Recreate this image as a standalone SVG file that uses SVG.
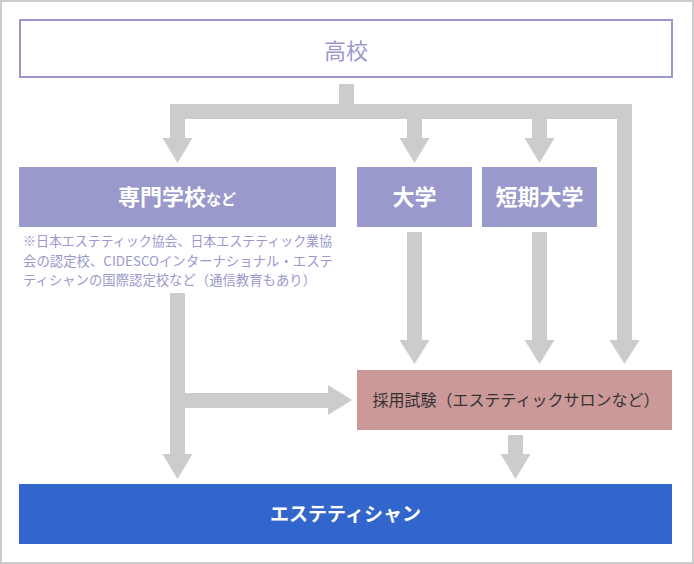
<svg xmlns="http://www.w3.org/2000/svg" width="694" height="564" viewBox="0 0 694 564">
<style>
.conn{fill:#cccccc}
.jp{font-family:"Noto Sans CJK JP","Noto Sans",sans-serif}
.white{fill:#ffffff;font-weight:bold}
</style>
<rect x="1" y="1" width="692" height="562" fill="#ffffff" stroke="#cccccc" stroke-width="2"/>
<g id="koukou">
<rect x="20" y="20" width="652" height="57" fill="#ffffff" stroke="#9999cc" stroke-width="2"/>
<text class="jp" x="346" y="59" font-size="22" fill="#9999cc" text-anchor="middle">高校</text>
</g>
<g id="senmon">
<rect x="19" y="167" width="317" height="60" fill="#9999cc"/>
<text class="jp white" x="177" y="205" font-size="22" text-anchor="middle">専門学校<tspan font-size="15">など</tspan></text>
<text class="jp" font-size="13.5" fill="#9999cc"><tspan x="23" y="246" textLength="309" lengthAdjust="spacingAndGlyphs">※日本エステティック協会、日本エステティック業協</tspan><tspan x="23" y="266" textLength="310" lengthAdjust="spacingAndGlyphs">会の認定校、CIDESCOインターナショナル・エステ</tspan><tspan x="23" y="285" textLength="293" lengthAdjust="spacingAndGlyphs">ティシャンの国際認定校など（通信教育もあり）</tspan></text>
</g>
<g id="daigaku">
<rect x="357" y="167" width="115" height="60" fill="#9999cc"/>
<text class="jp white" x="414.5" y="205" font-size="22" text-anchor="middle">大学</text>
</g>
<g id="tanki">
<rect x="482" y="167" width="115" height="60" fill="#9999cc"/>
<text class="jp white" x="539.5" y="205" font-size="22" text-anchor="middle">短期大学</text>
</g>
<g id="saiyou">
<rect x="357" y="370" width="315" height="60" fill="#cc9999"/>
<text class="jp" x="516" y="406" font-size="16" fill="#333333" text-anchor="middle">採用試験（エステティックサロンなど）</text>
</g>
<g id="esthetician">
<rect x="19" y="484" width="653" height="60" fill="#3366cc"/>
<text class="jp white" x="345.5" y="521" font-size="19" text-anchor="middle">エステティシャン</text>
</g>
<g id="connectors">
<rect class="conn" x="339" y="84" width="15" height="21"/>
<rect class="conn" x="170" y="104" width="462" height="15"/>
<rect class="conn" x="170" y="118" width="15" height="21"/>
<polygon class="conn" points="162.5,138 192.5,138 177.5,163"/>
<rect class="conn" x="407" y="118" width="15" height="21"/>
<polygon class="conn" points="399.5,138 429.5,138 414.5,163"/>
<rect class="conn" x="532" y="118" width="15" height="21"/>
<polygon class="conn" points="524.5,138 554.5,138 539.5,163"/>
<rect class="conn" x="617" y="104" width="15" height="237"/>
<polygon class="conn" points="609.5,340 639.5,340 624.5,364"/>
<rect class="conn" x="407" y="232" width="15" height="109"/>
<polygon class="conn" points="399.5,340 429.5,340 414.5,364"/>
<rect class="conn" x="532" y="232" width="15" height="109"/>
<polygon class="conn" points="524.5,340 554.5,340 539.5,364"/>
<rect class="conn" x="170" y="293" width="15" height="162"/>
<polygon class="conn" points="162.5,454 192.5,454 177.5,479"/>
<rect class="conn" x="184" y="393" width="145" height="15"/>
<polygon class="conn" points="328,385 328,415 352,400"/>
<rect class="conn" x="508" y="435" width="15" height="20"/>
<polygon class="conn" points="500.5,454 530.5,454 515.5,479"/>
</g>
</svg>
